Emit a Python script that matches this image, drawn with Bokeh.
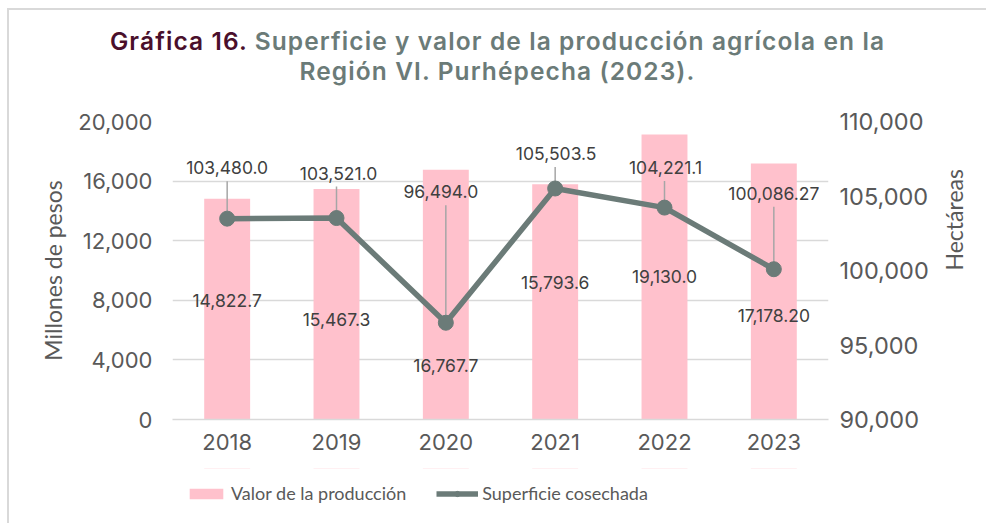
import math
from bokeh.plotting import figure
from bokeh.models import (ColumnDataSource, Range1d, LinearAxis, FixedTicker, NumeralTickFormatter,
                          Legend, LegendItem, FactorRange, Div)
from bokeh.layouts import column
from bokeh.embed import file_html
from bokeh.resources import INLINE
from bokeh.core.properties import value

# ---- data ----
years = ["2018", "2019", "2020", "2021", "2022", "2023"]
valor_produccion = [14822.7, 15467.3, 16767.7, 15793.6, 19130.0, 17178.20]
valor_labels = ["14,822.7", "15,467.3", "16,767.7", "15,793.6", "19,130.0", "17,178.20"]
superficie = [103480.0, 103521.0, 96494.0, 105503.5, 104221.1, 100086.27]
superficie_labels = ["103,480.0", "103,521.0", "96,494.0", "105,503.5", "104,221.1", "100,086.27"]
left_ticks = [0, 4000, 8000, 12000, 16000, 20000]
right_ticks = [90000, 95000, 100000, 105000, 110000]
title_a = "Gráfica 16."
title_b = "Superficie y valor de la producción agrícola en la"
title_c = "Región VI. Purhépecha (2023)."
legend_a = "Valor de la producción"
legend_b = "Superficie cosechada"

# ---- layout ----
bar_label_dy = [102, 130, 196, 98, 142, 152]      # px below bar top
line_label_dy = [-51, -45, -131, -35, -40, -76]   # px from point (negative = up)
line_label_dx = [0, 2, -5, 1, 1, 0]
leader_gap = 13.5

OX, OY = 9, 10                 # content origin (after chart border)
W = 986 - OX
TH = 92 - OY                   # title strip
PH = 468 - 92                  # main plot
LH = 523 - 468                 # legend strip
FL, FR, FT, FB = 172 - OX, 158, 121 - 92, 468 - 419
frame_h = PH - FT - FB

num_font = "Inter"
txt_font = "Lato"
grey_txt = "#595959"
line_col = "#6b7b78"
bar_col = "#ffc1cc"

# ---- title ----
title_html = (
    '<div style="font-family:Inter; font-weight:600; font-size:24.5px; line-height:30px; '
    'letter-spacing:1.1px; color:%s; text-align:center; padding-top:16px; padding-left:11px; '
    'width:%dpx; white-space:nowrap;">'
    '<span style="color:#4a0f2b">%s</span> %s<br>%s</div>'
    % (line_col, W - 11, title_a, title_b, title_c))
title = Div(text=title_html, width=W, height=TH, margin=(0, 0, 0, 0))

# ---- main chart ----
p = figure(width=W, height=PH, x_range=FactorRange(*years), y_range=Range1d(0, 20000),
           output_backend="svg", toolbar_location=None,
           min_border_left=FL, min_border_right=FR, min_border_top=FT, min_border_bottom=FB)
p.outline_line_color = None
p.extra_y_ranges = {"right": Range1d(90000, 110000)}

src_bar = ColumnDataSource(dict(x=years, top=valor_produccion, lab=valor_labels, dy=bar_label_dy))
p.vbar(x="x", top="top", width=0.42, source=src_bar, fill_color=bar_col, line_color=None)

r_lo, r_hi = 90000, 110000
per_px = (r_hi - r_lo) / frame_h
lead_top = [v - (dy + leader_gap) * per_px for v, dy in zip(superficie, line_label_dy)]
p.segment(x0=years, y0=lead_top, x1=years, y1=superficie, y_range_name="right",
          line_color="#a6a6a6", line_width=1.5)

src_line = ColumnDataSource(dict(x=years, y=superficie, lab=superficie_labels,
                                 dy=line_label_dy, dx=line_label_dx))
p.line(x="x", y="y", source=src_line, y_range_name="right", line_color=line_col, line_width=5.5)
p.scatter(x="x", y="y", source=src_line, y_range_name="right", size=15,
          fill_color=line_col, line_color=line_col)

p.text(x="x", y="top", text="lab", source=src_bar, y_offset="dy", text_align="center",
       text_baseline="middle", text_font=value(num_font), text_font_size="17.5px", text_color="#404040")
p.text(x="x", y="y", text="lab", source=src_line, y_range_name="right", x_offset="dx", y_offset="dy",
       text_align="center", text_baseline="middle", text_font=value(num_font),
       text_font_size="17.5px", text_color="#404040")

p.yaxis.ticker = FixedTicker(ticks=left_ticks)
p.yaxis.formatter = NumeralTickFormatter(format="0,0")
p.yaxis.axis_label = "Millones de pesos"
ax_r = LinearAxis(y_range_name="right", ticker=FixedTicker(ticks=right_ticks),
                  formatter=NumeralTickFormatter(format="0,0"), axis_label="Hectáreas")
p.add_layout(ax_r, "right")

for ax in [p.yaxis[0], ax_r]:
    ax.axis_line_color = None
    ax.major_tick_line_color = None
    ax.minor_tick_line_color = None
    ax.major_label_text_font = num_font
    ax.major_label_text_font_size = "22px"
    ax.major_label_text_color = grey_txt
    ax.axis_label_text_font = txt_font
    ax.axis_label_text_font_size = "23px"
    ax.axis_label_text_font_style = "normal"
    ax.axis_label_text_color = grey_txt
p.yaxis[0].major_label_standoff = 14
p.yaxis[0].axis_label_standoff = 8
ax_r.major_label_text_font_size = "23.5px"
ax_r.major_label_standoff = 5
ax_r.axis_label_standoff = 22
ax_r.axis_label_orientation = math.pi / 2

p.xaxis.axis_line_color = "#d9d9d9"
p.xaxis.axis_line_width = 1.5
p.xaxis.major_tick_line_color = None
p.xaxis.minor_tick_line_color = None
p.xaxis.major_label_text_font = num_font
p.xaxis.major_label_text_font_size = "22px"
p.xaxis.major_label_text_color = grey_txt
p.xaxis.major_label_standoff = 8

p.xgrid.grid_line_color = None
p.ygrid.grid_line_color = "#d9d9d9"
p.ygrid.grid_line_width = 1.5

# ---- legend strip: same series and styles, kept outside the strip's view ----
lf = figure(width=W, height=LH, x_range=FactorRange(*years), y_range=Range1d(0, 1),
            output_backend="svg", toolbar_location=None,
            min_border_left=FL, min_border_right=FR, min_border_top=0, min_border_bottom=0)
lf.axis.visible = False
lf.grid.visible = False
lf.outline_line_color = None
lb = lf.vbar(x=years, bottom=valor_produccion, top=valor_produccion, width=0.42,
             fill_color=bar_col, line_color=None)
ll = lf.line(x=years, y=superficie, line_color=line_col, line_width=5.5)
lm = lf.scatter(x=years, y=superficie, size=15, fill_color=line_col, line_color=line_col)
leg = Legend(items=[LegendItem(label=legend_a, renderers=[lb]),
                    LegendItem(label=legend_b, renderers=[ll, lm])],
             orientation="horizontal", location=(13, 19), padding=0, margin=0, spacing=30,
             glyph_width=42, glyph_height=13, label_standoff=4,
             label_text_font=txt_font, label_text_font_size="18px", label_text_color=grey_txt,
             border_line_color=None, background_fill_alpha=0)
lf.add_layout(leg, "center")

layout = column(title, p, lf, spacing=0, margin=(8, 0, 0, 7),
                styles={"border-left": "2px solid #d9d9d9", "border-top": "2px solid #d9d9d9"})
open("out.html", "w").write(file_html(layout, INLINE))
